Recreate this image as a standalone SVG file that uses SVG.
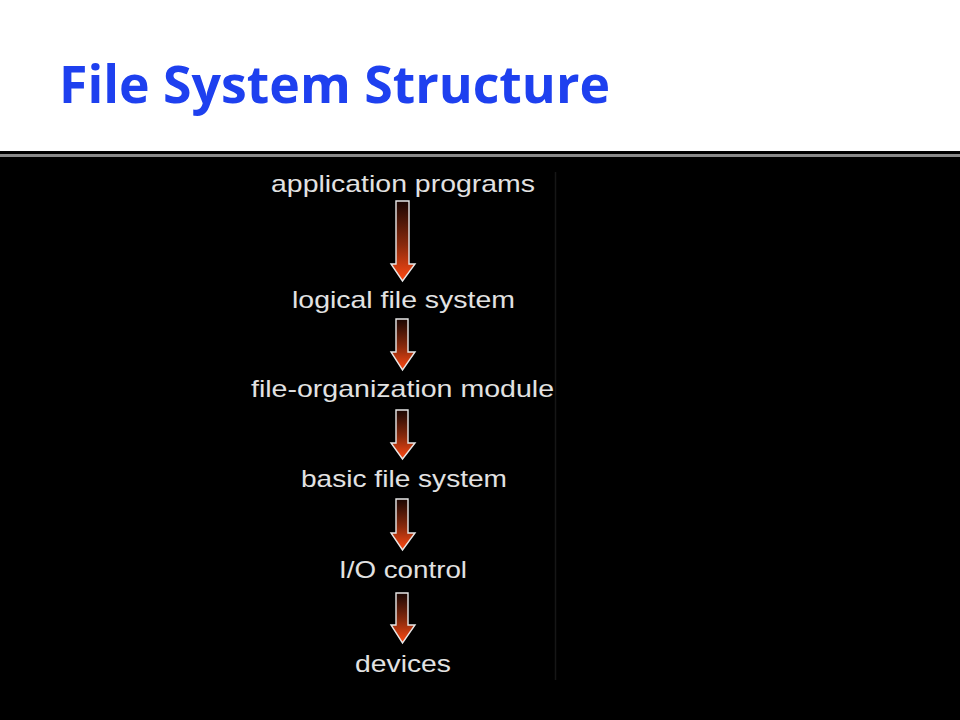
<svg xmlns="http://www.w3.org/2000/svg" width="960" height="720" viewBox="0 0 960 720">
  <style>
    .title { font-family: "Open Sans", "Noto Sans", "Liberation Sans", sans-serif; font-weight: bold; font-size: 52px; fill: #1e40ef; }
    .label { font-family: "Liberation Sans", Arial, sans-serif; font-size: 24px; fill: #e2e2e2; }
    .arrow { fill: url(#arrowFill); stroke: #e8e8e8; stroke-width: 1.4; stroke-linejoin: miter; }
  </style>
  <defs>
    <linearGradient id="arrowFill" x1="0" y1="0" x2="0" y2="1">
      <stop offset="0" stop-color="#1a0602"/>
      <stop offset="0.55" stop-color="#8a2a0c"/>
      <stop offset="1" stop-color="#ff4a14"/>
    </linearGradient>
  </defs>

  <!-- page background -->
  <rect x="0" y="0" width="960" height="720" fill="#000000"/>
  <rect x="0" y="0" width="960" height="151" fill="#ffffff"/>
  <rect x="0" y="154" width="960" height="3" fill="#8a8a8a"/>

  <!-- heading -->
  <text class="title" x="59" y="103" textLength="551" lengthAdjust="spacingAndGlyphs">File System Structure</text>

  <!-- faint edge of the layer panel -->
  <line x1="555.5" y1="172" x2="555.5" y2="680" stroke="#161616" stroke-width="1.5"/>

  <!-- layers -->
  <g id="application-programs">
    <text class="label" x="271" y="192" textLength="264" lengthAdjust="spacingAndGlyphs">application programs</text>
  </g>
  <g id="logical-file-system">
    <text class="label" x="292" y="308" textLength="223" lengthAdjust="spacingAndGlyphs">logical file system</text>
  </g>
  <g id="file-organization-module">
    <text class="label" x="251" y="397" textLength="303" lengthAdjust="spacingAndGlyphs">file-organization module</text>
  </g>
  <g id="basic-file-system">
    <text class="label" x="301" y="487" textLength="206" lengthAdjust="spacingAndGlyphs">basic file system</text>
  </g>
  <g id="io-control">
    <text class="label" x="339" y="578" textLength="128" lengthAdjust="spacingAndGlyphs">I/O control</text>
  </g>
  <g id="devices">
    <text class="label" x="355" y="672" textLength="96" lengthAdjust="spacingAndGlyphs">devices</text>
  </g>

  <!-- downward arrows between layers -->
  <g id="connectors">
    <path class="arrow" d="M396,201 H409 V264 H415 L402.5,281 L391,264 H396 Z"/>
    <path class="arrow" d="M396,319 H408 V352 H415 L402.5,370 L391,352 H396 Z"/>
    <path class="arrow" d="M396,410 H408 V443 H415 L402.5,459 L391,443 H396 Z"/>
    <path class="arrow" d="M396,499 H408 V533 H415 L402.5,550 L391,533 H396 Z"/>
    <path class="arrow" d="M396,593 H408 V625 H415 L402.5,643 L391,625 H396 Z"/>
  </g>
</svg>
